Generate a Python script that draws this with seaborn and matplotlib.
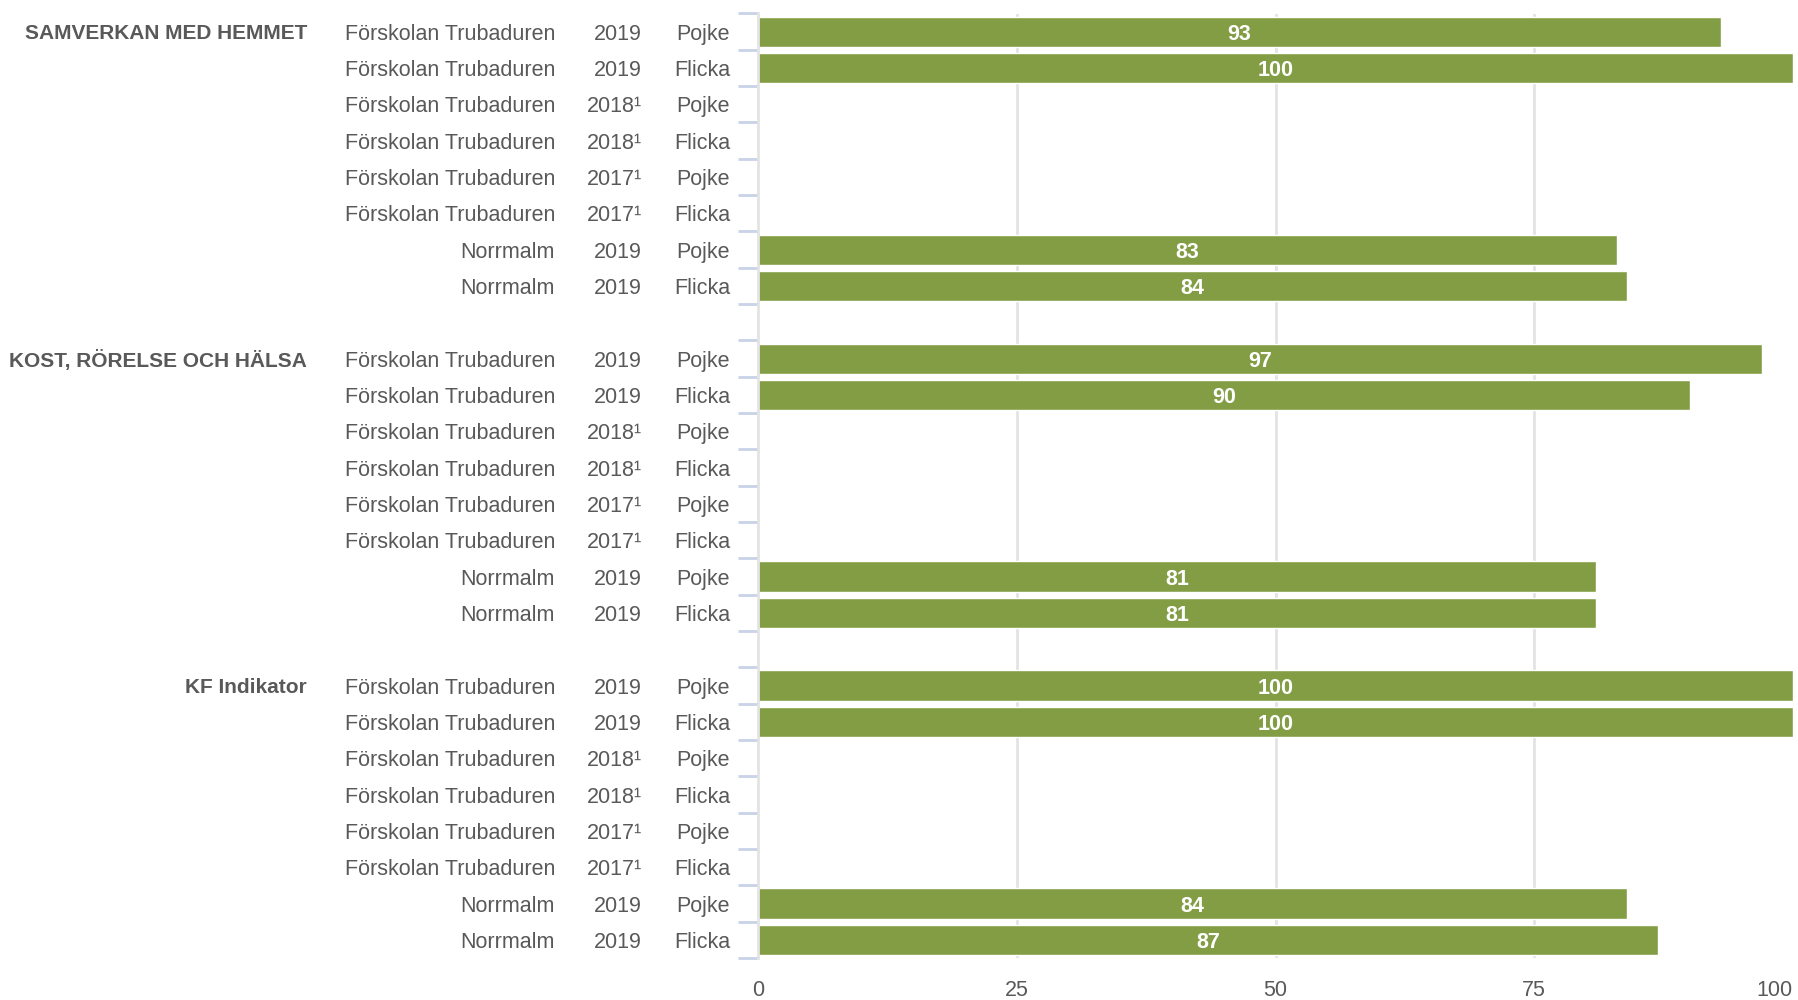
import numpy as np
import pandas as pd
import matplotlib
matplotlib.use('Agg')
import matplotlib.pyplot as plt
import matplotlib.transforms as mtransforms
import seaborn as sns

# Data
grupper = ['SAMVERKAN MED HEMMET', 'KOST, RÖRELSE OCH HÄLSA', 'KF Indikator']
enheter = ['Förskolan Trubaduren'] * 6 + ['Norrmalm'] * 2
ar = ['2019', '2019', '2018¹', '2018¹', '2017¹', '2017¹', '2019', '2019']
kon = ['Pojke', 'Flicka', 'Pojke', 'Flicka', 'Pojke', 'Flicka', 'Pojke', 'Flicka']
varden_samverkan = [93, 100, np.nan, np.nan, np.nan, np.nan, 83, 84]
varden_kost = [97, 90, np.nan, np.nan, np.nan, np.nan, 81, 81]
varden_kf = [100, 100, np.nan, np.nan, np.nan, np.nan, 84, 87]
x_ticks = [0, 25, 50, 75, 100]

alla_varden = [varden_samverkan, varden_kost, varden_kf]

# Bygg tabell + ordning (med tomma rader mellan grupperna)
rader = []
ordning = []
for gi, grupp in enumerate(grupper):
    for i in range(len(enheter)):
        nyckel = f'{gi}_{i}'
        ordning.append(nyckel)
        rader.append({'rad': nyckel, 'grupp': grupp, 'enhet': enheter[i],
                      'ar': ar[i], 'kon': kon[i], 'varde': alla_varden[gi][i],
                      'forsta': i == 0})
    if gi < len(grupper) - 1:
        ordning.append(f'tom_{gi}')
df = pd.DataFrame(rader)

sns.set_style('white')
plt.rcParams['font.family'] = ['Liberation Sans', 'DejaVu Sans']

textfarg = '#595959'
gron = '#839d45'

fig = plt.figure(figsize=(17.99, 10), dpi=100)
ax = fig.add_axes([758 / 1799, 0.042, (1793 - 758) / 1799, 0.9445])

sns.barplot(data=df.dropna(subset=['varde']), x='varde', y='rad', order=ordning,
            orient='h', color=gron, saturation=1, width=0.83, errorbar=None, ax=ax)

ax.set_xlim(0, 100)
ax.set_xticks(x_ticks)
ax.set_xlabel('')
ax.set_ylabel('')
ax.set_yticks([])
ax.set_yticks(np.arange(len(ordning) + 1) - 0.5, minor=True)
ax.tick_params(axis='y', which='minor', length=14.5, width=2, color='#c9d3e8', left=True)
ax.tick_params(axis='x', length=0, labelsize=15.5, labelcolor=textfarg, pad=16)
for lbl in ax.get_xticklabels():
    if lbl.get_text() == '100':
        lbl.set_horizontalalignment('right')

ax.grid(axis='x', color='#e3e3e3', linewidth=2)
ax.set_axisbelow(True)
ax.get_xgridlines()[-1].set_visible(False)
ax.get_xgridlines()[0].set_visible(False)

for side in ['top', 'right', 'bottom']:
    ax.spines[side].set_visible(False)
ax.spines['left'].set_color('#e3e3e3')
ax.spines['left'].set_linewidth(2)

# Värdeetiketter
for cont in ax.containers:
    etiketter = ax.bar_label(cont, fmt='%.0f', label_type='center', color='white',
                             fontweight='bold', fontsize=15.5)
    for t in etiketter:
        t.set_verticalalignment('center_baseline')

# Radetiketter i kolumner
trans = mtransforms.blended_transform_factory(fig.transFigure, ax.transData)
for _, r in df.iterrows():
    ypos = ordning.index(r['rad'])
    ax.text(555 / 1799, ypos, r['enhet'], transform=trans, ha='right',
            va='center_baseline', fontsize=15.5, color=textfarg)
    ax.text(642 / 1799, ypos, r['ar'], transform=trans, ha='right',
            va='center_baseline', fontsize=15.5, color=textfarg)
    ax.text(730 / 1799, ypos, r['kon'], transform=trans, ha='right',
            va='center_baseline', fontsize=15.5, color=textfarg)
    if r['forsta']:
        ax.text(307 / 1799, ypos, r['grupp'], transform=trans, ha='right',
                va='center_baseline', fontsize=15, fontweight='bold', color=textfarg)

fig.savefig('out.png', dpi=100)
